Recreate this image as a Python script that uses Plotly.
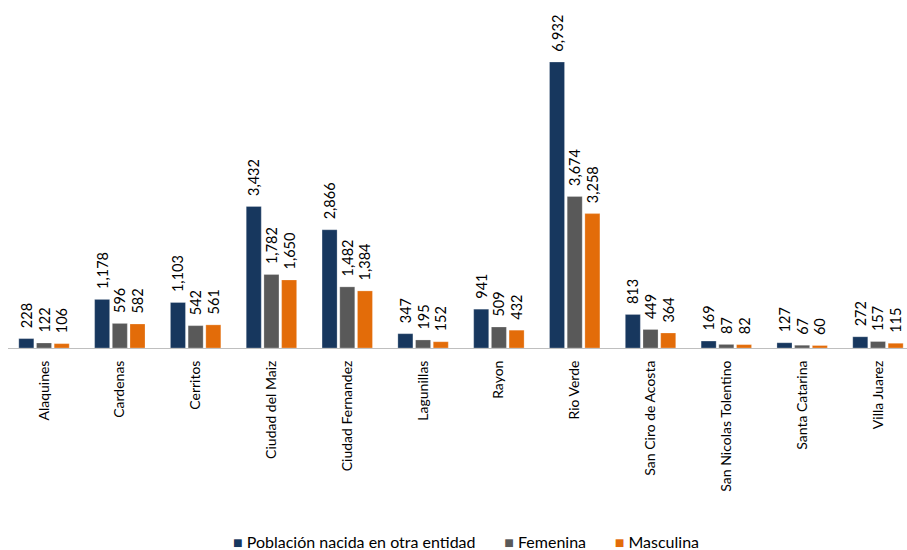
import plotly.graph_objects as go

categories = ["Alaquines", "Cardenas", "Cerritos", "Ciudad del Maiz", "Ciudad Fernandez",
              "Lagunillas", "Rayon", "Rio Verde", "San Ciro de Acosta",
              "San Nicolas Tolentino", "Santa Catarina", "Villa Juarez"]
total = [228, 1178, 1103, 3432, 2866, 347, 941, 6932, 813, 169, 127, 272]
femenina = [122, 596, 542, 1782, 1482, 195, 509, 3674, 449, 87, 67, 157]
masculina = [106, 582, 561, 1650, 1384, 152, 432, 3258, 364, 82, 60, 115]

series = [
    ("Población nacida en otra entidad", total, "#17375E"),
    ("Femenina", femenina, "#595959"),
    ("Masculina", masculina, "#E36C09"),
]

fig = go.Figure()
for name, vals, color in series:
    fig.add_trace(go.Bar(
        x=categories, y=vals, name=name,
        marker=dict(color=color, line=dict(color="rgba(255,255,255,0.5)", width=0.5)),
        text=["\u00a0\u00a0" + f"{v:,}" for v in vals], textposition="outside", textangle=-90,
        textfont=dict(size=14.5, color="#000000", family="Lato"),
        constraintext="none", cliponaxis=False, showlegend=False,
    ))

legend_text = "&nbsp;&nbsp;&nbsp;&nbsp;&nbsp;&nbsp;&nbsp;".join(
    f"<span style='color:{c}'>■</span> {n}" for n, _, c in series)
fig.add_annotation(
    text=legend_text, xref="paper", yref="paper", x=0.509, y=-0.585,
    xanchor="center", yanchor="middle", showarrow=False,
    font=dict(size=16, family="Lato", color="#000000"),
)

fig.update_layout(
    width=907, height=550,
    barmode="group", bargap=0.3, bargroupgap=0.15,
    plot_bgcolor="white", paper_bgcolor="white",
    margin=dict(l=8, r=0, t=18, b=202, autoexpand=False),
    font=dict(family="Lato", size=14, color="#000000"),
)
fig.update_xaxes(
    range=[-0.475, 11.383], tickangle=-90, showline=True, linecolor="#BFBFBF", linewidth=1,
    ticks="outside", ticklen=6, tickcolor="rgba(0,0,0,0)", showgrid=False,
    tickfont=dict(size=14, family="Lato"), automargin=False,
)
fig.update_yaxes(range=[0, 8000], visible=False, showgrid=False, automargin=False)

fig.write_html(
    "out.html",
    config={"displayModeBar": False},
    post_script="document.body.style.margin='0';document.body.style.overflow='hidden';",
)
